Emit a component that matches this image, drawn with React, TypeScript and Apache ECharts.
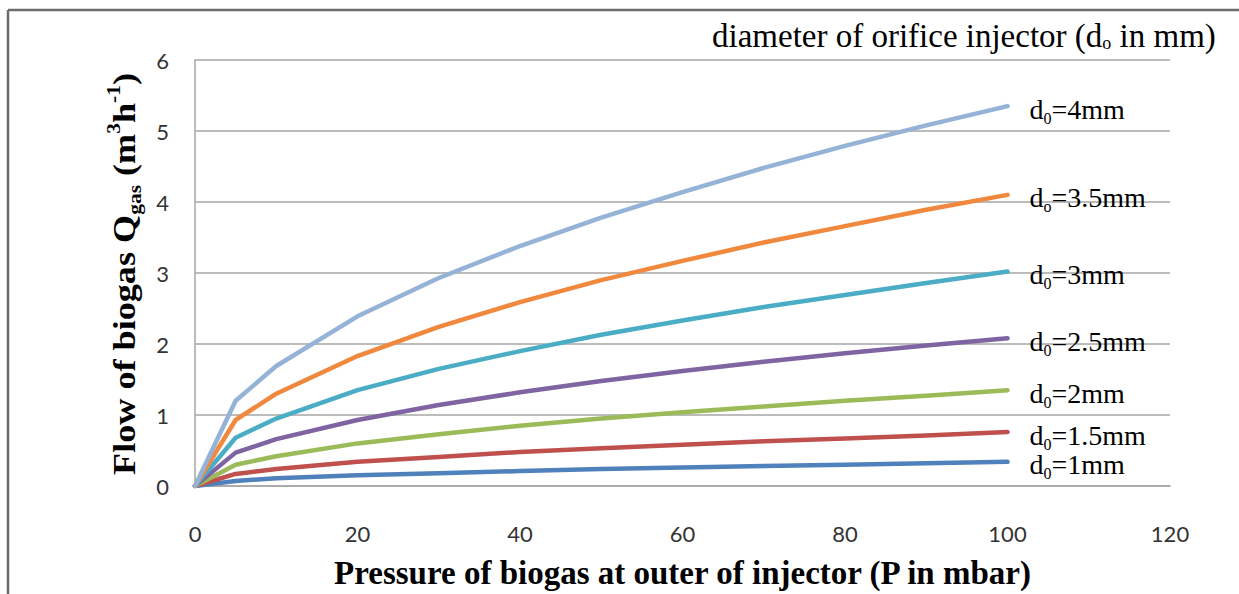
import React, { useEffect, useRef } from 'react';
import * as echarts from 'echarts';

const pressure = [0, 5, 10, 20, 30, 40, 50, 60, 70, 80, 90, 100];
const diameters = ['1', '1.5', '2', '2.5', '3', '3.5', '4'];
const subs = ['0', '0', '0', '0', '0', 'o', '0'];
const flowD1 = [0, 0.07, 0.11, 0.15, 0.18, 0.21, 0.24, 0.26, 0.28, 0.30, 0.32, 0.34];
const flowD15 = [0, 0.17, 0.24, 0.34, 0.41, 0.48, 0.53, 0.58, 0.63, 0.67, 0.71, 0.76];
const flowD2 = [0, 0.30, 0.42, 0.60, 0.73, 0.85, 0.95, 1.04, 1.12, 1.20, 1.27, 1.35];
const flowD25 = [0, 0.47, 0.66, 0.93, 1.14, 1.32, 1.48, 1.62, 1.75, 1.87, 1.98, 2.08];
const flowD3 = [0, 0.68, 0.95, 1.35, 1.65, 1.90, 2.13, 2.33, 2.52, 2.69, 2.86, 3.02];
const flowD35 = [0, 0.93, 1.30, 1.83, 2.24, 2.59, 2.90, 3.17, 3.43, 3.66, 3.89, 4.10];
const flowD4 = [0, 1.20, 1.69, 2.39, 2.93, 3.38, 3.78, 4.14, 4.48, 4.79, 5.08, 5.35];
const flows = [flowD1, flowD15, flowD2, flowD25, flowD3, flowD35, flowD4];
const colors = ['#4F81BD', '#C0504D', '#9BBB59', '#8064A2', '#4BACC6', '#F0883E', '#95B3D7'];

const SERIF = '"Liberation Serif", "Times New Roman", serif';
const SANS = 'Lato, "Open Sans", sans-serif';

export default function App() {
  const ref = useRef<HTMLDivElement>(null);
  useEffect(() => {
    if (!ref.current) return;
    const chart = echarts.init(ref.current, null, { renderer: 'svg' });
    const labelRich = {
      m: { fontFamily: SERIF, fontSize: 28, color: '#000', lineHeight: 34 },
      s: { fontFamily: SERIF, fontSize: 16, color: '#000', lineHeight: 16, verticalAlign: 'bottom' },
    };
    chart.setOption({
      animation: false,
      backgroundColor: '#fff',
      grid: { left: 195, right: 69, top: 60, bottom: 106, containLabel: false },
      xAxis: {
        type: 'value',
        min: 0,
        max: 120,
        interval: 20,
        name: 'Pressure of biogas at outer of injector (P in mbar)',
        nameLocation: 'middle',
        nameGap: 70,
        nameTextStyle: { fontFamily: SERIF, fontWeight: 'bold', fontSize: 33, color: '#000' },
        axisLine: { show: true, lineStyle: { color: '#a6a6a6', width: 1.5 } },
        axisTick: { show: false },
        splitLine: { show: false },
        axisLabel: { margin: 36, fontFamily: SANS, fontSize: 22, color: '#333' },
      },
      yAxis: {
        type: 'value',
        min: 0,
        max: 6,
        interval: 1,
        axisLine: { show: true, lineStyle: { color: '#a6a6a6', width: 1.5 } },
        axisTick: { show: false },
        splitLine: { show: true, lineStyle: { color: '#a6a6a6', width: 1.5 } },
        axisLabel: { margin: 26, fontFamily: SANS, fontSize: 22, color: '#333' },
      },
      graphic: [
        { type: 'line', shape: { x1: 8, y1: 10, x2: 1239, y2: 10 }, style: { stroke: '#6b6b6b', lineWidth: 2.5 } },
        { type: 'line', shape: { x1: 8, y1: 10, x2: 8, y2: 594 }, style: { stroke: '#6b6b6b', lineWidth: 2.5 } },
        {
          type: 'text',
          x: 124,
          y: 274,
          rotation: Math.PI / 2,
          scaleX: 1.13,
          style: {
            text: '{b|Flow of biogas Q}{sub|gas}{b| (m}{sup|3}{b|h}{sup|-1}{b|)}',
            align: 'center',
            verticalAlign: 'middle',
            fill: '#000',
            rich: {
              b: { fontFamily: SERIF, fontWeight: 'bold', fontSize: 32, fill: '#000', lineHeight: 40 },
              sub: { fontFamily: SERIF, fontWeight: 'bold', fontSize: 19, fill: '#000', lineHeight: 19, verticalAlign: 'bottom' },
              sup: { fontFamily: SERIF, fontWeight: 'bold', fontSize: 19, fill: '#000', lineHeight: 19, verticalAlign: 'top' },
            },
          },
        },
        {
          type: 'text',
          left: 712,
          top: 19,
          style: {
            text: 'diameter of orifice injector (d{s|o} in mm)',
            font: '33px ' + SERIF,
            fill: '#000',
            rich: {
              s: { fontFamily: SERIF, fontSize: 18, fill: '#000', lineHeight: 18, verticalAlign: 'bottom' },
            },
          },
        },
      ],
      series: flows.map((f, i) => ({
        type: 'line',
        name: 'd0=' + diameters[i] + 'mm',
        data: pressure.map((p, j) => [p, f[j]]),
        showSymbol: false,
        symbol: 'none',
        color: colors[i],
        lineStyle: { color: colors[i], width: 4.5, cap: 'round', join: 'round' },
        endLabel: {
          show: true,
          distance: 22,
          offset: [0, 3],
          formatter: () => '{m|d}{s|' + subs[i] + '}{m|=' + diameters[i] + 'mm}',
          rich: labelRich,
        },
        z: 3 + i,
      })),
    });
    return () => chart.dispose();
  }, []);
  return <div ref={ref} style={{ position: 'absolute', left: 0, top: 0, width: 1239, height: 594 }} />;
}
